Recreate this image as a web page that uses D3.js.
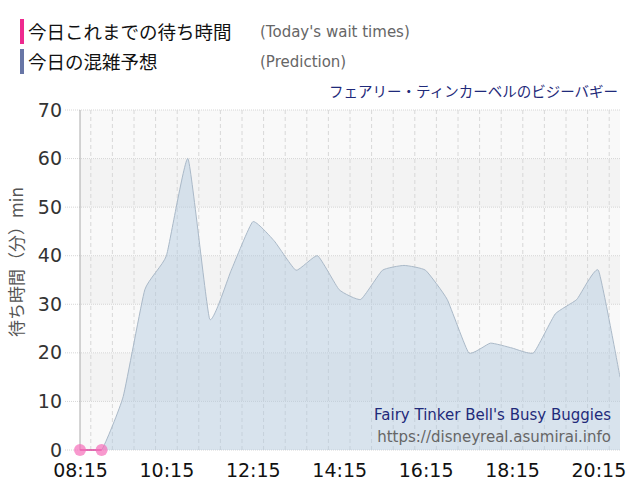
<!DOCTYPE html>
<meta charset="utf-8">
<style>
body { margin: 0; background: #fff; }
svg text { font-family: "DejaVu Sans", "Noto Sans CJK JP", sans-serif; }
.jp { font-family: "Noto Sans CJK JP", sans-serif; }
</style>
<body>
<div id="chart"></div>
<script src="https://cdn.jsdelivr.net/npm/d3@7"></script>
<script>

// prediction (area), every 30 minutes
var predTimes = ["08:15","08:45","09:15","09:45","10:15","10:45","11:15","11:45","12:15",
  "12:45","13:15","13:45","14:15","14:45","15:15","15:45","16:15","16:45","17:15",
  "17:45","18:15","18:45","19:15","19:45","20:15","20:45"];
var predValues = [0,0,11,33,40,60,27,37,47,43,37,40,33,31,37,38,37,31,20,22,21,20,28,31,37,15];

// today's actual wait times
var actTimes = ["08:15","08:45"];
var actValues = [0,0];

var xTickLabels = ["08:15","10:15","12:15","14:15","16:15","18:15","20:15"];
var yTicks = [0,10,20,30,40,50,60,70];

var W = 640, H = 500;
var margin = {top: 110, right: 20, bottom: 50, left: 80},
    width = W - margin.left - margin.right,
    height = H - margin.top - margin.bottom;

var parseT = d3.timeParse("%H:%M");

var x = d3.scaleTime()
    .domain([parseT("08:15"), parseT("20:45")])
    .range([0, width]);
var y = d3.scaleLinear().domain([0, 70]).range([height, 0]);

var svg = d3.select("#chart").append("svg")
    .attr("width", W).attr("height", H);

// legend at top
var legend = [
  {jp: "今日これまでの待ち時間", en: "(Today's wait times)", color: "#ee2a8f", y: 19},
  {jp: "今日の混雑予想", en: "(Prediction)", color: "#6876a6", y: 49}
];
legend.forEach(function(d) {
  svg.append("rect").attr("x", 20).attr("y", d.y).attr("width", 4).attr("height", 25)
      .attr("fill", d.color);
  svg.append("text").attr("class", "jp").attr("x", 28).attr("y", d.y + 20)
      .attr("font-size", 18.5).attr("fill", "#111").text(d.jp);
  svg.append("text").attr("x", 260).attr("y", d.y + 18)
      .attr("font-size", 15).attr("fill", "#666").text(d.en);
});

svg.append("text").attr("class", "jp")
    .attr("x", 618).attr("y", 97).attr("text-anchor", "end")
    .attr("font-size", 14.5).attr("fill", "#1f2a7a")
    .text("フェアリー・ティンカーベルのビジーバギー");

var g = svg.append("g")
    .attr("transform", "translate(" + margin.left + "," + margin.top + ")");

g.append("clipPath").attr("id", "plot")
  .append("rect").attr("width", width).attr("height", height);

// alternating bands
var bands = d3.range(0, 70, 10);
g.selectAll(".band").data(bands).enter().append("rect")
    .attr("x", 0).attr("width", width)
    .attr("y", function(d) { return y(d + 10); })
    .attr("height", function(d) { return y(d) - y(d + 10); })
    .attr("fill", function(d) { return (d / 10) % 2 ? "#f3f3f3" : "#f9f9f9"; });

// vertical grid every 30 min
function isLabelled(d) { return d.getHours() % 2 === 0 && d.getMinutes() === 15; }
var gridTimes = d3.timeMinute.every(30).range(parseT("08:15"), parseT("20:46"));
g.selectAll(".vgrid").data(gridTimes).enter().append("line")
    .attr("x1", function(d) { return x(d); }).attr("x2", function(d) { return x(d); })
    .attr("y1", 0)
    .attr("y2", function(d) { return isLabelled(d) ? height + 10 : height; })
    .attr("stroke", "#d8d8d8")
    .attr("stroke-dasharray", function(d) { return isLabelled(d) ? "1,1" : "4,3"; });

// horizontal grid
g.selectAll(".hgrid").data(yTicks).enter().append("line")
    .attr("x1", -15).attr("x2", width)
    .attr("y1", function(d) { return y(d); }).attr("y2", function(d) { return y(d); })
    .attr("stroke", "#d6d6d6").attr("stroke-dasharray", "1,1");

// prediction area
var pred = predTimes.map(function(t, i) { return {t: parseT(t), v: predValues[i]}; });
var curve = d3.curveCardinal.tension(0.6);
var area = d3.area().curve(curve)
    .x(function(d) { return x(d.t); }).y0(height).y1(function(d) { return y(d.v); });
var line = d3.line().curve(curve)
    .x(function(d) { return x(d.t); }).y(function(d) { return y(d.v); });

var pg = g.append("g").attr("clip-path", "url(#plot)");
pg.append("path").attr("d", area(pred))
    .attr("fill", "rgba(172,198,222,0.42)");
pg.append("path").attr("d", line(pred))
    .attr("fill", "none").attr("stroke", "#aab9c8").attr("stroke-width", 1);

// y axis line
g.append("line").attr("x1", 0).attr("x2", 0).attr("y1", 0).attr("y2", height)
    .attr("stroke", "#aaa");

// y axis labels
var yAxis = d3.axisLeft(y).tickValues(yTicks).tickSize(0).tickPadding(18);
g.append("g").call(yAxis)
    .call(function(s) { s.select(".domain").remove(); })
    .selectAll("text")
    .attr("font-size", 19).attr("fill", "#333")
    .attr("font-family", "DejaVu Sans");

// x axis labels
var xAxis = d3.axisBottom(x).tickValues(xTickLabels.map(parseT))
    .tickFormat(d3.timeFormat("%H:%M")).tickSize(0).tickPadding(14);
g.append("g").attr("transform", "translate(0," + height + ")").call(xAxis)
    .call(function(s) { s.select(".domain").remove(); })
    .selectAll("text")
    .attr("font-size", 19).attr("fill", "#111")
    .attr("font-family", "DejaVu Sans");

// actual wait times
var act = actTimes.map(function(t, i) { return {t: parseT(t), v: actValues[i]}; });
g.append("path").attr("d", d3.line().x(function(d) { return x(d.t); }).y(function(d) { return y(d.v); })(act))
    .attr("fill", "none").attr("stroke", "#d8409a").attr("stroke-width", 1.5);
g.selectAll(".pt").data(act).enter().append("circle")
    .attr("cx", function(d) { return x(d.t); }).attr("cy", function(d) { return y(d.v); })
    .attr("r", 6).attr("fill", "rgba(245,110,185,0.7)");

// y axis title
svg.append("text").attr("class", "jp")
    .attr("transform", "translate(23,262) rotate(-90)")
    .attr("text-anchor", "middle").attr("font-size", 17).attr("fill", "#555")
    .text("待ち時間（分）min");

// watermark
svg.append("text").attr("x", 611).attr("y", 420).attr("text-anchor", "end")
    .attr("font-size", 15).attr("fill", "#1f2a7a").text("Fairy Tinker Bell's Busy Buggies");
svg.append("text").attr("x", 611).attr("y", 442).attr("text-anchor", "end")
    .attr("font-size", 15).attr("fill", "#666").text("https://disneyreal.asumirai.info");

</script>
</body>
